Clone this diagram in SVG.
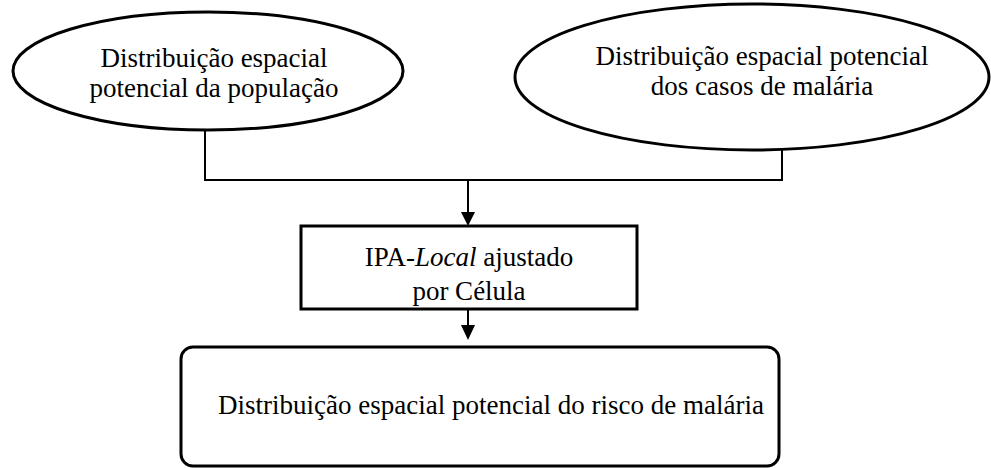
<svg xmlns="http://www.w3.org/2000/svg" width="991" height="468" viewBox="0 0 991 468">
<style>
.shape{fill:#fff;stroke:#000;stroke-width:3}
.t{font-family:"Liberation Serif","Times New Roman",serif;font-size:27px;fill:#000;text-anchor:middle}
.conn{fill:none;stroke:#000;stroke-width:2}
.head{fill:#000}
</style>
<g id="connectors">
<path class="conn" d="M205,130 V180 H782 V150"/>
<path class="conn" d="M468,180 V213"/>
<path class="head" d="M461,212 L475,212 L468,226 Z"/>
<path class="conn" d="M468,309 V326"/>
<path class="head" d="M461,325 L475,325 L468,340 Z"/>
</g>
<g id="pop">
<ellipse class="shape" cx="208" cy="71" rx="195" ry="59"/>
<text class="t" x="214" y="67">Distribuição espacial</text>
<text class="t" x="214" y="97">potencial da população</text>
</g>
<g id="casos">
<ellipse class="shape" cx="752" cy="77" rx="237" ry="73"/>
<text class="t" x="762" y="65">Distribuição espacial potencial</text>
<text class="t" x="762" y="95">dos casos de malária</text>
</g>
<g id="ipa">
<rect class="shape" x="301" y="226" width="336" height="83"/>
<text class="t" x="469" y="266">IPA-<tspan font-style="italic">Local</tspan> ajustado</text>
<text class="t" x="469" y="300">por Célula</text>
</g>
<g id="risco">
<rect class="shape" x="181" y="347" width="598" height="119" rx="12"/>
<text class="t" x="491" y="414">Distribuição espacial potencial do risco de malária</text>
</g>
</svg>
